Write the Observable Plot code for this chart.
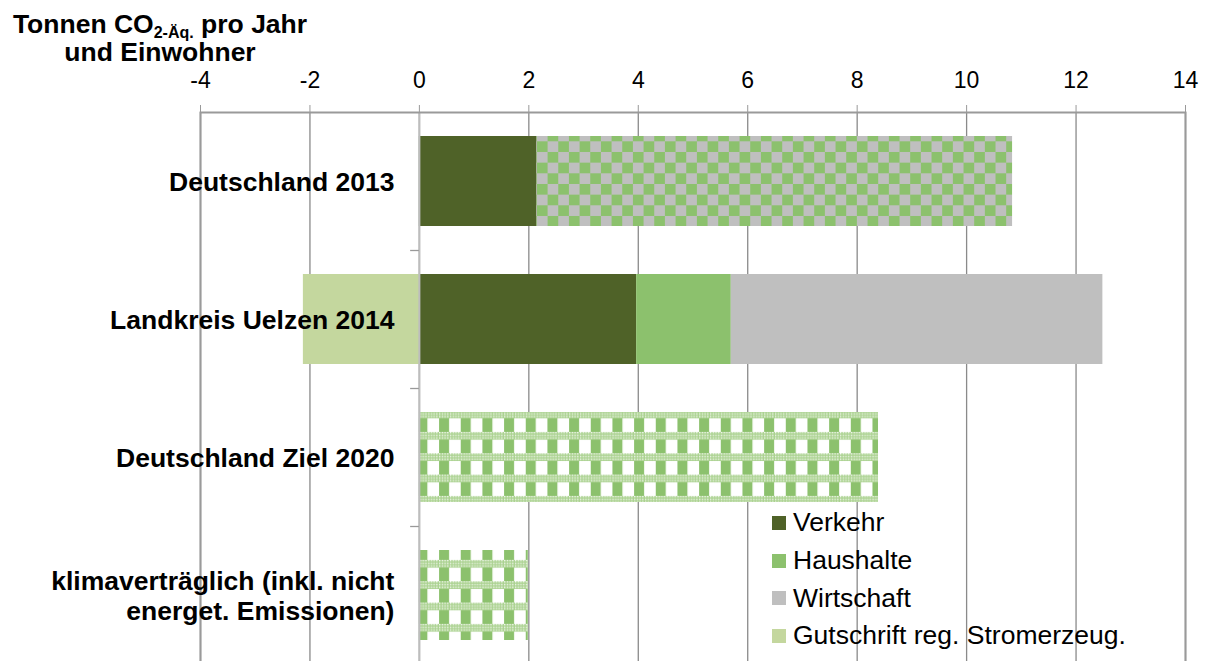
<!DOCTYPE html>
<html><head><meta charset="utf-8">
<script src="https://cdn.jsdelivr.net/npm/d3@7"></script>
<script src="https://cdn.jsdelivr.net/npm/@observablehq/plot@0.6"></script>
<style>
html,body{margin:0;padding:0;overflow:hidden;background:#fff;}
#wrap{position:relative;width:1206px;height:661px;font-family:"Liberation Sans",Arial,sans-serif;color:#000;}
#title{position:absolute;left:0;top:11px;width:320px;text-align:center;font-weight:bold;font-size:26.5px;line-height:27px;}
#title .l1{display:block;height:28px;}
#title .l2{display:block;height:26px;}
#title sub{font-size:16px;vertical-align:-5px;line-height:0;}
#legend{position:absolute;left:772px;top:504px;font-size:26.5px;}
.item{display:flex;align-items:center;height:37.7px;white-space:nowrap;}
.sw{width:14px;height:14px;margin-right:7px;flex:none;}
</style>
</head><body>
<div id="wrap">
<div id="chart"></div>
<div id="title"><span class="l1">Tonnen CO<sub>2-Äq.</sub> pro Jahr</span><span class="l2">und Einwohner</span></div>
<div id="legend"></div>
</div>
<script>
// ---- data ----
const categories = ["Deutschland 2013", "Landkreis Uelzen 2014", "Deutschland Ziel 2020", "klimaverträglich (inkl. nicht\nenerget. Emissionen)"];
const verkehr = [2.15, 3.97, null, null];
const haushalte = [null, 1.73, null, null];
const wirtschaft = [null, 6.79, null, null];
const gutschrift = [null, -2.12, null, null];
const haushalteWirtschaft = [8.69, null, null, null];
const gesamt = [null, null, 8.39, 1.99];
const xTicks = [-4, -2, 0, 2, 4, 6, 8, 10, 12, 14];
const seriesNames = ["Verkehr", "Haushalte", "Wirtschaft", "Gutschrift reg. Stromerzeug.", "Haushalte + Wirtschaft", "Gesamt"];
const legendNames = ["Verkehr", "Haushalte", "Wirtschaft", "Gutschrift reg. Stromerzeug."];

// ---- styles ----
const fills = ["#4F6228", "#8CC16D", "#BFBFBF", "#C4D79E", "url(#pCheck)", "url(#pPlaid)"];

const seriesValues = [verkehr, haushalte, wirtschaft, gutschrift, haushalteWirtschaft, gesamt];
const rows = [];
seriesValues.forEach((vals, s) => vals.forEach((v, i) => {
  if (v != null) rows.push({category: categories[i], series: seriesNames[s], value: v});
}));

const chart = Plot.plot({
  width: 1206, height: 664,
  marginTop: 112, marginBottom: 0, marginLeft: 200, marginRight: 21,
  style: {fontFamily: "Liberation Sans, Arial, sans-serif", background: "white", color: "black", overflow: "visible"},
  x: {domain: [-4, 14]},
  y: {domain: categories, paddingInner: 0.348, paddingOuter: 0.174, axis: null},
  color: {domain: seriesNames, range: fills},
  marks: [
    Plot.gridX({ticks: xTicks, stroke: "#8a8a8a", strokeOpacity: 1, strokeWidth: 1.3}),
    Plot.barX(rows, Plot.stackX({x: "value", y: "category", fill: "series"})),
    Plot.ruleX([0], {stroke: "#bdbdbd", strokeWidth: 2}),
    Plot.ruleY(categories.slice(1), {y: d => d, x1: -0.16, x2: 0, dy: -69, stroke: "#999", strokeWidth: 1.3}),
    Plot.frame({stroke: "#9a9a9a", strokeWidth: 2}),
    Plot.axisX({ticks: xTicks, tickFormat: d => String(d), anchor: "top", tickSize: 8, tickPadding: 17, fontSize: 23, stroke: "#999", fill: "black", label: null}),
    Plot.text(categories, {x: () => 0, y: d => d, text: d => d, textAnchor: "end", dx: -25, fontWeight: "bold", fontSize: 26.5, lineHeight: 1.15, fill: "black"})
  ]
});
document.getElementById("chart").appendChild(chart);

// patterns
const svg = d3.select(chart.tagName.toLowerCase() === "svg" ? chart : chart.querySelector("svg"));
const defs = svg.insert("defs", ":first-child");
const pc = defs.append("pattern").attr("id", "pCheck").attr("patternUnits", "userSpaceOnUse")
  .attr("x", 3.67).attr("y", 13.33).attr("width", 21.33).attr("height", 21.33);
pc.append("rect").attr("width", 21.33).attr("height", 21.33).attr("fill", "#BFBFBF");
pc.append("rect").attr("width", 10.67).attr("height", 10.67).attr("fill", "#8CC16D");
pc.append("rect").attr("x", 10.67).attr("y", 10.67).attr("width", 10.67).attr("height", 10.67).attr("fill", "#8CC16D");

const pd = defs.append("pattern").attr("id", "pDots").attr("patternUnits", "userSpaceOnUse")
  .attr("width", 2.7).attr("height", 2.7);
pd.append("rect").attr("width", 2.7).attr("height", 2.7).attr("fill", "#A9D18E");
pd.append("rect").attr("width", 1.3).attr("height", 1.3).attr("fill", "#ffffff");

const pp = defs.append("pattern").attr("id", "pPlaid").attr("patternUnits", "userSpaceOnUse")
  .attr("x", 5.67).attr("y", 5.3).attr("width", 21.67).attr("height", 21.33);
pp.append("rect").attr("width", 21.67).attr("height", 21.33).attr("fill", "#ffffff");
pp.append("rect").attr("width", 10).attr("height", 21.33).attr("fill", "#8CC16D");
pp.append("rect").attr("width", 21.67).attr("height", 7.8).attr("fill", "url(#pDots)");

// legend
const leg = d3.select("#legend");
legendNames.forEach((n, i) => {
  const it = leg.append("div").attr("class", "item");
  it.append("div").attr("class", "sw").style("background", fills[i]);
  it.append("span").text(n);
});
</script>
</body></html>
